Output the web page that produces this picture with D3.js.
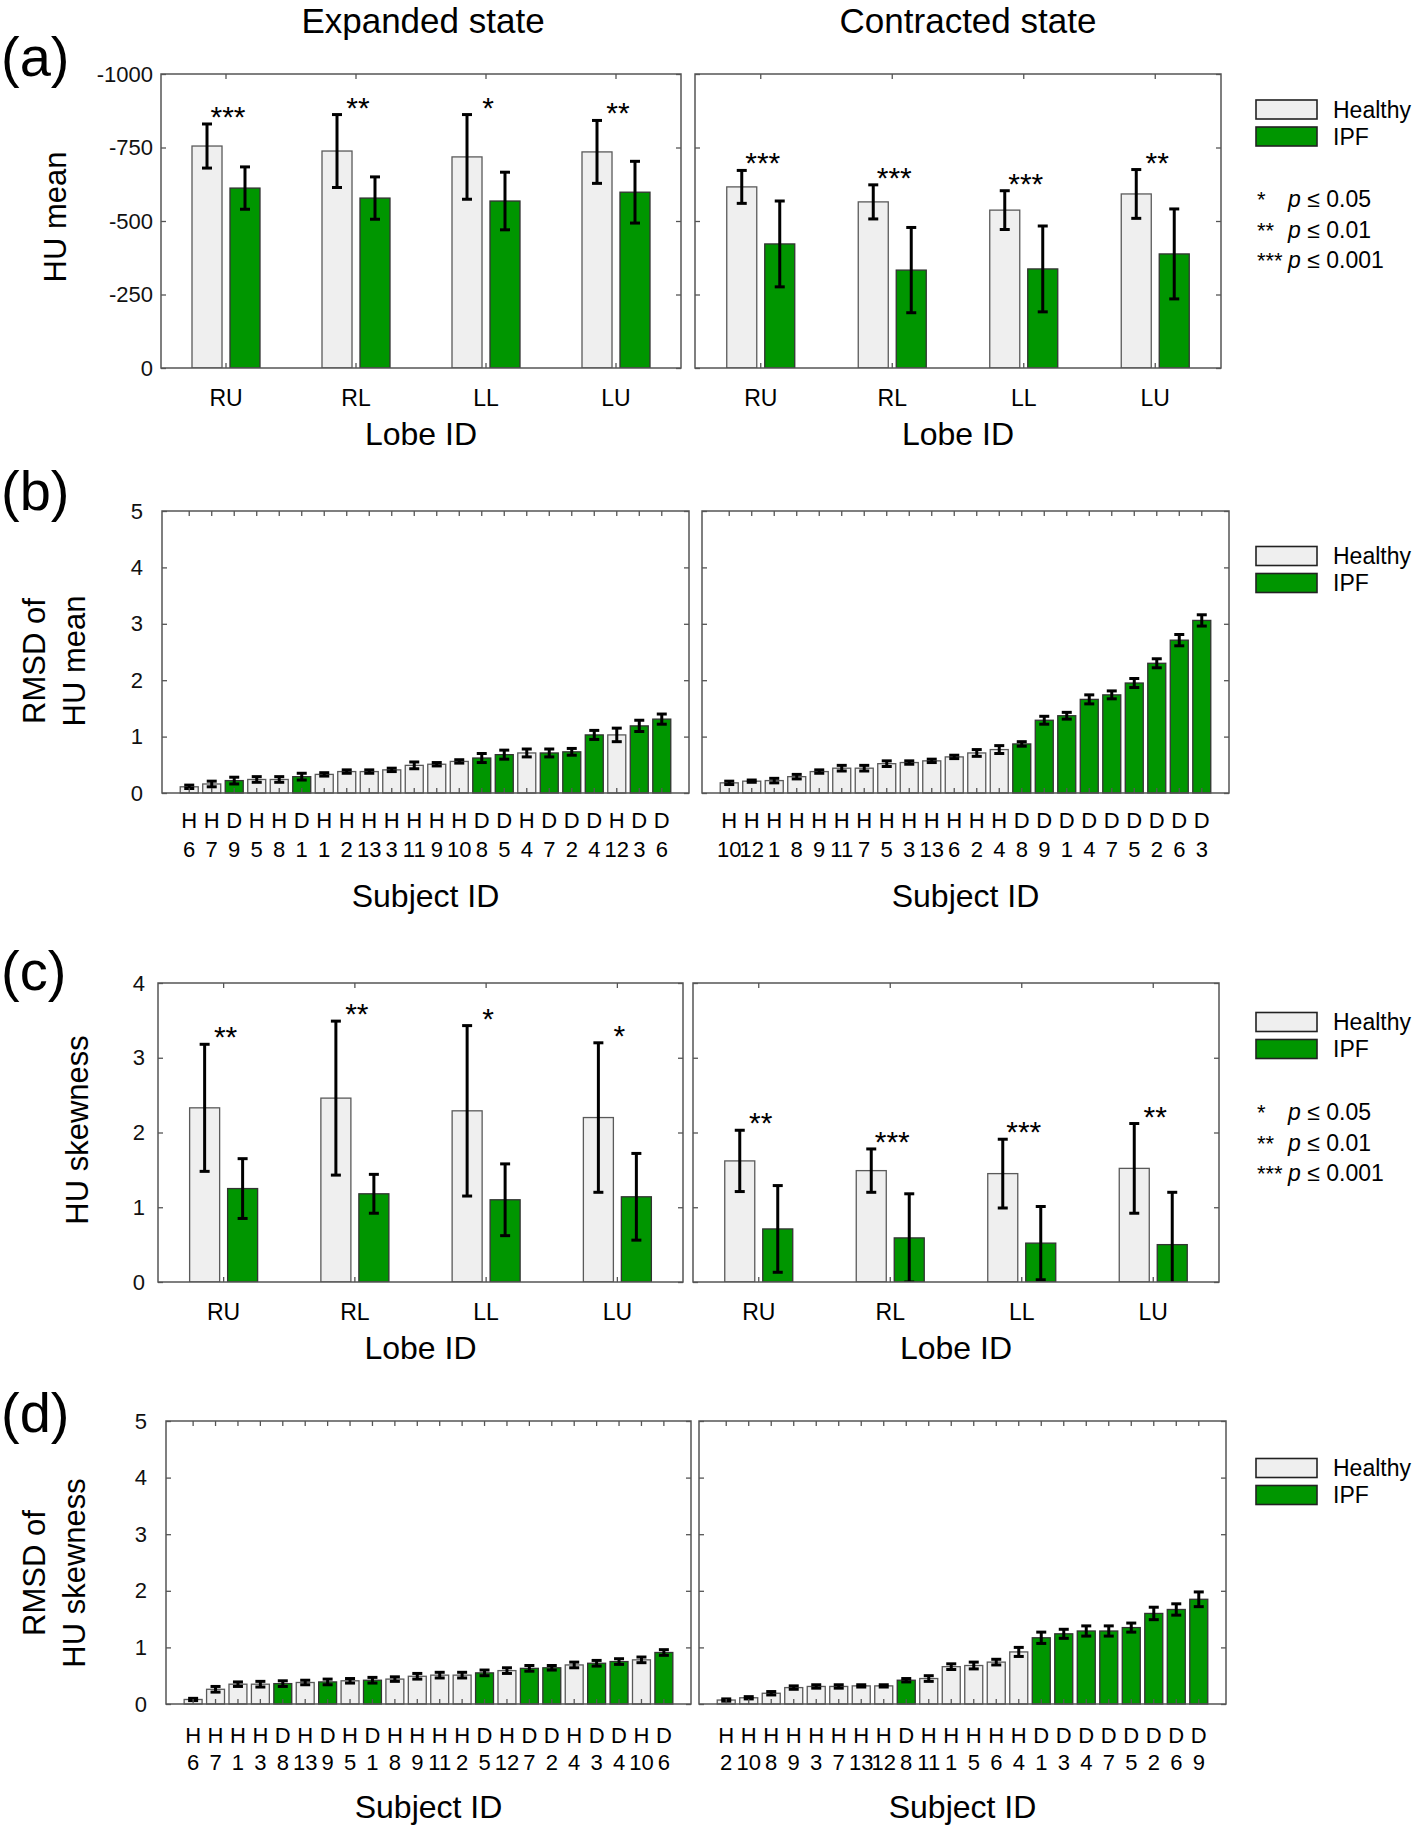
<!DOCTYPE html>
<html>
<head>
<script src="https://d3js.org/d3.v7.min.js"></script>
<style>
  body { margin: 0; background: #fff; }
  svg { font-family: "Liberation Sans", Arial, sans-serif; }
  .frame { fill: none; stroke: #555; stroke-width: 1.5px; }
  .axis line { stroke: #555; stroke-width: 1.3px; }
  .axis text { fill: #111; }
  .err { stroke: #000; stroke-width: 3px; }
</style>
</head>
<body>
<div id="chart"></div>
<script>
// ---- data ----
const lobes = ["RU", "RL", "LL", "LU"];

// (a) HU mean, mean and SD per lobe
const expHuHealthy = [-755, -738, -718, -735];
const expHuHealthySd = [75, 124, 144, 107];
const expHuIpf = [-612, -578, -568, -598];
const expHuIpfSd = [72, 72, 98, 105];
const expHuSig = ["***", "**", "*", "**"];
const conHuHealthy = [-616, -565, -537, -592];
const conHuHealthySd = [56, 58, 66, 83];
const conHuIpf = [-422, -333, -337, -388];
const conHuIpfSd = [146, 145, 146, 153];
const conHuSig = ["***", "***", "***", "**"];
const huTicks = [0, -250, -500, -750, -1000];

// (c) HU skewness
const expSkHealthy = [2.33, 2.46, 2.29, 2.20];
const expSkHealthySd = [0.85, 1.03, 1.14, 1.00];
const expSkIpf = [1.25, 1.18, 1.10, 1.14];
const expSkIpfSd = [0.40, 0.26, 0.48, 0.58];
const expSkSig = ["**", "**", "*", "*"];
const conSkHealthy = [1.62, 1.49, 1.45, 1.52];
const conSkHealthySd = [0.41, 0.29, 0.46, 0.60];
const conSkIpf = [0.71, 0.59, 0.52, 0.50];
const conSkIpfSd = [0.58, 0.59, 0.49, 0.70];
const conSkSig = ["**", "***", "***", "**"];
const skTicks = [0, 1, 2, 3, 4];

// (b) RMSD of HU mean per subject
const rmExpIds = ["H6","H7","D9","H5","H8","D1","H1","H2","H13","H3","H11","H9","H10","D8","D5","H4","D7","D2","D4","H12","D3","D6"];
const rmExpVal = [0.11,0.16,0.22,0.24,0.24,0.29,0.33,0.38,0.38,0.41,0.49,0.51,0.56,0.62,0.68,0.71,0.71,0.73,1.03,1.03,1.19,1.31];
const rmExpErr = [0.03,0.05,0.06,0.05,0.05,0.06,0.03,0.03,0.03,0.03,0.06,0.03,0.03,0.08,0.08,0.07,0.07,0.06,0.08,0.12,0.10,0.09];
const rmConIds = ["H10","H12","H1","H8","H9","H11","H7","H5","H3","H13","H6","H2","H4","D8","D9","D1","D4","D7","D5","D2","D6","D3"];
const rmConVal = [0.18,0.21,0.22,0.29,0.38,0.44,0.44,0.52,0.54,0.57,0.64,0.71,0.77,0.87,1.29,1.37,1.66,1.74,1.95,2.30,2.71,3.06];
const rmConErr = [0.03,0.02,0.04,0.04,0.03,0.05,0.05,0.05,0.03,0.03,0.03,0.06,0.07,0.04,0.07,0.06,0.08,0.07,0.08,0.08,0.10,0.10];

// (d) RMSD of HU skewness per subject
const rsExpIds = ["H6","H7","H1","H3","D8","H13","D9","H5","D1","H8","H9","H11","H2","D5","H12","D7","D2","H4","D3","D4","H10","D6"];
const rsExpVal = [0.08,0.26,0.35,0.35,0.36,0.38,0.39,0.41,0.42,0.44,0.49,0.51,0.51,0.55,0.59,0.63,0.64,0.69,0.72,0.75,0.78,0.91];
const rsExpErr = [0.02,0.05,0.04,0.05,0.05,0.04,0.05,0.04,0.05,0.04,0.05,0.05,0.05,0.05,0.05,0.05,0.04,0.05,0.05,0.05,0.05,0.05];
const rsConIds = ["H2","H10","H8","H9","H3","H7","H13","H12","D8","H11","H1","H5","H6","H4","D1","D3","D4","D7","D5","D2","D6","D9"];
const rsConVal = [0.07,0.11,0.19,0.29,0.31,0.31,0.32,0.32,0.42,0.45,0.66,0.68,0.74,0.92,1.17,1.24,1.29,1.29,1.35,1.60,1.67,1.85];
const rsConErr = [0.02,0.02,0.03,0.03,0.03,0.03,0.02,0.02,0.03,0.05,0.05,0.06,0.05,0.08,0.10,0.08,0.09,0.09,0.08,0.11,0.10,0.13];
const rmsdTicks = [0, 1, 2, 3, 4, 5];

const healthyFill = "#efefef";
const ipfFill = "#009600";

var svg = d3.select("#chart").append("svg")
  .attr("width", 1418)
  .attr("height", 1831);

var clipCount = 0;

function frameAxes(g, x, y, p, ticks, showLabels, fmt, labelPad) {
  g.append("g").attr("class", "axis")
    .attr("transform", "translate(0," + p.y1 + ")")
    .call(d3.axisBottom(x).tickSize(-5).tickFormat(""))
    .call(s => s.select(".domain").remove());
  g.append("g").attr("class", "axis")
    .attr("transform", "translate(0," + p.y0 + ")")
    .call(d3.axisTop(x).tickSize(-5).tickFormat(""))
    .call(s => s.select(".domain").remove());
  var left = g.append("g").attr("class", "axis")
    .attr("transform", "translate(" + p.x0 + ",0)")
    .call(d3.axisLeft(y).tickValues(ticks).tickSize(-5).tickPadding(labelPad)
      .tickFormat(showLabels ? fmt : ""))
    .call(s => s.select(".domain").remove());
  left.attr("font-family", null).attr("font-size", 22);
  g.append("g").attr("class", "axis")
    .attr("transform", "translate(" + p.x1 + ",0)")
    .call(d3.axisRight(y).tickValues(ticks).tickSize(-5).tickFormat(""))
    .call(s => s.select(".domain").remove());
  g.append("rect").attr("class", "frame")
    .attr("x", p.x0).attr("y", p.y0)
    .attr("width", p.x1 - p.x0).attr("height", p.y1 - p.y0);
}

function errorBar(g, cx, ya, yb, cap) {
  g.append("line").attr("class", "err").attr("x1", cx).attr("x2", cx).attr("y1", ya).attr("y2", yb);
  g.append("line").attr("class", "err").attr("x1", cx - cap / 2).attr("x2", cx + cap / 2).attr("y1", ya).attr("y2", ya);
  g.append("line").attr("class", "err").attr("x1", cx - cap / 2).attr("x2", cx + cap / 2).attr("y1", yb).attr("y2", yb);
}

function lobePanel(p) {
  var g = svg.append("g");
  var x = d3.scaleBand().domain(lobes).range([p.x0, p.x1]);
  var xs = d3.scaleBand().domain(["Healthy", "IPF"]).range([-34, 34]).paddingInner(0.21);
  var y = d3.scaleLinear().domain(p.domain).range([p.y1, p.y0]);
  var id = "clip" + (clipCount++);
  g.append("clipPath").attr("id", id).append("rect")
    .attr("x", p.x0).attr("y", p.y0).attr("width", p.x1 - p.x0).attr("height", p.y1 - p.y0);
  var plot = g.append("g").attr("clip-path", "url(#" + id + ")");

  var rows = lobes.map((l, i) => ({
    lobe: l,
    bars: [
      {k: "Healthy", v: p.h[i], sd: p.hs[i], fill: healthyFill, stroke: "#5a5a5a"},
      {k: "IPF", v: p.d[i], sd: p.ds[i], fill: ipfFill, stroke: "#333"}
    ],
    sig: p.sig[i]
  }));

  rows.forEach(function(r) {
    var cx = x(r.lobe) + x.bandwidth() / 2;
    var top = Infinity;
    r.bars.forEach(function(b) {
      var bx = cx + xs(b.k);
      plot.append("rect")
        .attr("x", bx).attr("y", Math.min(y(0), y(b.v)))
        .attr("width", xs.bandwidth()).attr("height", Math.abs(y(b.v) - y(0)))
        .attr("fill", b.fill).attr("stroke", b.stroke).attr("stroke-width", 1.3);
      var ya = y(b.v - b.sd), yb = y(b.v + b.sd);
      errorBar(plot, bx + xs.bandwidth() / 2, ya, yb, 10);
      top = Math.min(top, ya, yb);
    });
    g.append("text").attr("x", cx + 2).attr("y", top + 3)
      .attr("text-anchor", "middle").attr("font-size", 30).text(r.sig);
    g.append("text").attr("x", cx).attr("y", p.y1 + 38)
      .attr("text-anchor", "middle").attr("font-size", 23).text(r.lobe);
  });

  frameAxes(g, x, y, p, p.ticks, p.showY, p.fmt, p.pad);

  g.append("text").attr("x", (p.x0 + p.x1) / 2).attr("y", p.y1 + 77)
    .attr("text-anchor", "middle").attr("font-size", 32).text("Lobe ID");
}

function subjectPanel(p) {
  var g = svg.append("g");
  var x = d3.scaleBand().domain(p.ids).range([p.x0, p.x1]).paddingInner(0.2).paddingOuter(0.81);
  var y = d3.scaleLinear().domain([0, 5]).range([p.y1, p.y0]);

  p.ids.forEach(function(s, i) {
    var bx = x(s);
    g.append("rect")
      .attr("x", bx).attr("y", y(p.vals[i]))
      .attr("width", x.bandwidth()).attr("height", y(0) - y(p.vals[i]))
      .attr("fill", s[0] === "H" ? healthyFill : ipfFill)
      .attr("stroke", s[0] === "H" ? "#5a5a5a" : "#333").attr("stroke-width", 1.3);
    errorBar(g, bx + x.bandwidth() / 2, y(p.vals[i] + p.errs[i]), y(p.vals[i] - p.errs[i]), 10);
    var lab = g.append("text").attr("text-anchor", "middle").attr("font-size", 22)
      .attr("x", bx + x.bandwidth() / 2);
    lab.append("tspan").attr("x", bx + x.bandwidth() / 2).attr("y", p.y1 + p.l1).text(s[0]);
    lab.append("tspan").attr("x", bx + x.bandwidth() / 2).attr("y", p.y1 + p.l2).text(s.slice(1));
  });

  frameAxes(g, x, y, p, rmsdTicks, p.showY, d3.format("d"), 19);

  g.append("text").attr("x", (p.x0 + p.x1) / 2).attr("y", p.y1 + 114)
    .attr("text-anchor", "middle").attr("font-size", 32).text("Subject ID");
}

function legend(yc, pBase) {
  var g = svg.append("g");
  [["Healthy", healthyFill], ["IPF", ipfFill]].forEach(function(d, i) {
    var cy = yc + i * 27;
    g.append("rect").attr("x", 1256).attr("y", cy - 9.5).attr("width", 61).attr("height", 19)
      .attr("fill", d[1]).attr("stroke", "#222").attr("stroke-width", 1.6);
    g.append("text").attr("x", 1333).attr("y", cy + 8).attr("font-size", 23).text(d[0]);
  });
  if (pBase != null) {
    [["*", "0.05"], ["**", "0.01"], ["***", "0.001"]].forEach(function(d, i) {
      var by = pBase + i * 30.5;
      g.append("text").attr("x", 1257).attr("y", by).attr("font-size", 22).text(d[0]);
      var t = g.append("text").attr("x", 1288).attr("y", by).attr("font-size", 23);
      t.append("tspan").attr("font-style", "italic").text("p");
      t.append("tspan").text(" \u2264 " + d[1]);
    });
  }
}

function yTitle(lines, xs, cy) {
  lines.forEach(function(l, i) {
    svg.append("text").attr("transform", "translate(" + xs[i] + "," + cy + ") rotate(-90)")
      .attr("text-anchor", "middle").attr("font-size", 31).text(l);
  });
}

function panelTag(t, by) {
  svg.append("text").attr("x", 1).attr("y", by).attr("font-size", 56).text(t);
}

var huFmt = d => String(d);

// titles
svg.append("text").attr("x", 423).attr("y", 33).attr("text-anchor", "middle")
  .attr("font-size", 35).text("Expanded state");
svg.append("text").attr("x", 968).attr("y", 33).attr("text-anchor", "middle")
  .attr("font-size", 35).text("Contracted state");

// (a)
panelTag("(a)", 76);
lobePanel({x0: 161, x1: 681, y0: 74, y1: 368, domain: [0, -1000], ticks: huTicks, showY: true, fmt: huFmt, pad: 8,
  h: expHuHealthy, hs: expHuHealthySd, d: expHuIpf, ds: expHuIpfSd, sig: expHuSig});
lobePanel({x0: 695, x1: 1221, y0: 74, y1: 368, domain: [0, -1000], ticks: huTicks, showY: false, fmt: huFmt, pad: 8,
  h: conHuHealthy, hs: conHuHealthySd, d: conHuIpf, ds: conHuIpfSd, sig: conHuSig});
yTitle(["HU mean"], [66], 217);
legend(109.5, 207);

// (b)
panelTag("(b)", 510);
subjectPanel({x0: 162, x1: 689, y0: 511, y1: 793, ids: rmExpIds, vals: rmExpVal, errs: rmExpErr, showY: true, l1: 35, l2: 64});
subjectPanel({x0: 702, x1: 1229, y0: 511, y1: 793, ids: rmConIds, vals: rmConVal, errs: rmConErr, showY: false, l1: 35, l2: 64});
yTitle(["RMSD of", "HU mean"], [45, 85], 661);
legend(556, null);

// (c)
panelTag("(c)", 990);
lobePanel({x0: 158, x1: 683, y0: 983, y1: 1282, domain: [0, 4], ticks: skTicks, showY: true, fmt: d3.format("d"), pad: 13,
  h: expSkHealthy, hs: expSkHealthySd, d: expSkIpf, ds: expSkIpfSd, sig: expSkSig});
lobePanel({x0: 693, x1: 1219, y0: 983, y1: 1282, domain: [0, 4], ticks: skTicks, showY: false, fmt: d3.format("d"), pad: 13,
  h: conSkHealthy, hs: conSkHealthySd, d: conSkIpf, ds: conSkIpfSd, sig: conSkSig});
yTitle(["HU skewness"], [88], 1130);
legend(1022, 1120);

// (d)
panelTag("(d)", 1432);
subjectPanel({x0: 166, x1: 691, y0: 1421, y1: 1704, ids: rsExpIds, vals: rsExpVal, errs: rsExpErr, showY: true, l1: 39, l2: 66});
subjectPanel({x0: 699, x1: 1226, y0: 1421, y1: 1704, ids: rsConIds, vals: rsConVal, errs: rsConErr, showY: false, l1: 39, l2: 66});
yTitle(["RMSD of", "HU skewness"], [45, 85], 1573);
legend(1468, null);
</script>
</body>
</html>
